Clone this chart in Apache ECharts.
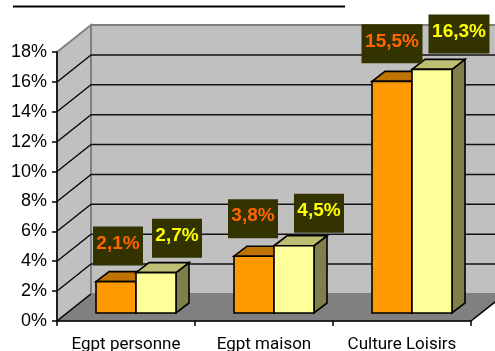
<!DOCTYPE html>
<html><head><meta charset="utf-8">
<style>html,body{margin:0;padding:0;background:#fff}#c{width:495px;height:351px}</style>
<script src="https://cdn.jsdelivr.net/npm/echarts@6/dist/echarts.min.js"></script>
</head><body><div id="c"></div>
<script>
const categories = ['Egpt personne', 'Egpt maison', 'Culture Loisirs'];
const orangeValues = [2.1, 3.8, 15.5];
const yellowValues = [2.7, 4.5, 16.3];
const yTicks = [0, 2, 4, 6, 8, 10, 12, 14, 16, 18];

// Label box placement relative to the bar's front-top centre (style only)
const orangeLabelShift = [[2, -16], [-1, -18], [0, -18]];
const yellowLabelShift = [[21, -15], [25, -13], [27, -16]];

const WALL_DX = 34, WALL_DY = -27;      // chart depth
const BAR_DX = 10, BAR_DY = -8;         // bar plane offset from the front plane
const BAR_DEPTH_X = 13, BAR_DEPTH_Y = -10;
const BAR_FRAC = 40 / 138;

const chart = echarts.init(document.getElementById('c'), null, {renderer: 'canvas'});
const FONT = '"Liberation Sans", Arial, sans-serif';

function wallsItem(p, api) {
  const o = api.coord([0, 0]), catW = api.size([1, 0])[0];
  const x0 = o[0] - catW / 2, x1 = x0 + catW * categories.length;
  const y0 = o[1], yT = api.coord([0, yTicks[yTicks.length - 1]])[1];
  const d = [WALL_DX, WALL_DY];
  return {type: 'group', children: [
    {type: 'polygon', shape: {points: [[x0 + d[0], yT + d[1]], [x1 + d[0], yT + d[1]], [x1 + d[0], y0 + d[1]], [x0 + d[0], y0 + d[1]]]},
      style: {fill: '#C0C0C0', stroke: '#808080', lineWidth: 2}},
    {type: 'polygon', shape: {points: [[x0, yT], [x0 + d[0], yT + d[1]], [x0 + d[0], y0 + d[1]], [x0, y0]]},
      style: {fill: '#C0C0C0', stroke: '#808080', lineWidth: 2}},
    {type: 'polygon', shape: {points: [[x0, y0], [x1, y0], [x1 + d[0], y0 + d[1]], [x0 + d[0], y0 + d[1]]]},
      style: {fill: '#808080', stroke: '#808080', lineWidth: 1}},
    {type: 'line', shape: {x1: x1, y1: y0, x2: x1 + d[0], y2: y0 + d[1]}, style: {stroke: '#000', lineWidth: 1.5}}
  ]};
}

function gridItem(p, api) {
  const v = api.value(1);
  const o = api.coord([0, v]), catW = api.size([1, 0])[0];
  const x0 = o[0] - catW / 2, x1 = x0 + catW * categories.length, y = o[1];
  const kids = [];
  if (v < yTicks[yTicks.length - 1]) {
    kids.push({type: 'line', shape: {x1: x0, y1: y, x2: x0 + WALL_DX, y2: y + WALL_DY}, style: {stroke: '#000', lineWidth: 1.3}});
    if (v > 0) kids.push({type: 'line', shape: {x1: x0 + WALL_DX, y1: y + WALL_DY, x2: x1 + WALL_DX, y2: y + WALL_DY}, style: {stroke: '#111', lineWidth: 1.5}});
  }
  return {type: 'group', children: kids};
}

function barRenderer(side, front, top, flank) {
  return function (p, api) {
    const i = api.value(0), v = api.value(1);
    const catW = api.size([1, 0])[0], w = catW * BAR_FRAC;
    const c = api.coord([i, v]), b = api.coord([i, 0]);
    const xL = c[0] + BAR_DX + (side === 0 ? -w : 0), xR = xL + w;
    const yT = c[1] + BAR_DY, yB = b[1] + BAR_DY;
    const st = {stroke: '#000', lineWidth: 1.6, lineJoin: 'miter'};
    return {type: 'group', children: [
      {type: 'polygon', shape: {points: [[xR, yT], [xR + BAR_DEPTH_X, yT + BAR_DEPTH_Y], [xR + BAR_DEPTH_X, yB + BAR_DEPTH_Y], [xR, yB]]}, style: {fill: flank, ...st}},
      {type: 'polygon', shape: {points: [[xL, yT], [xL + BAR_DEPTH_X, yT + BAR_DEPTH_Y], [xR + BAR_DEPTH_X, yT + BAR_DEPTH_Y], [xR, yT]]}, style: {fill: top, ...st}},
      {type: 'rect', shape: {x: xL, y: yT, width: w, height: yB - yT}, style: {fill: front, ...st}}
    ]};
  };
}

function labelRenderer(side, color, shifts) {
  return function (p, api) {
    const i = api.value(0), v = api.value(1);
    const catW = api.size([1, 0])[0], w = catW * BAR_FRAC;
    const c = api.coord([i, v]);
    const xL = c[0] + BAR_DX + (side === 0 ? -w : 0);
    const cx = xL + w / 2 + shifts[i][0], by = c[1] + BAR_DY + shifts[i][1];
    const txt = v.toFixed(1).replace('.', ',') + '%';
    const bw = v >= 10 ? 61 : 50, bh = 39;
    return {type: 'group', children: [
      {type: 'rect', shape: {x: cx - bw / 2, y: by - bh, width: bw, height: bh}, style: {fill: '#333300'}},
      {type: 'text', x: cx, y: by - bh + 17,
        style: {text: txt, fill: color, font: 'bold 19px ' + FONT, align: 'center', verticalAlign: 'middle'}}
    ]};
  };
}

const pairs = a => a.map((v, i) => [i, v]);

chart.setOption({
  animation: false,
  backgroundColor: '#fff',
  grid: {left: 57, top: 52, width: 414, height: 269, containLabel: false, outerBoundsMode: 'none'},
  graphic: [{type: 'line', silent: true, shape: {x1: 13, y1: 6.5, x2: 345, y2: 6.5}, style: {stroke: '#000', lineWidth: 2}}],
  xAxis: {
    type: 'category', data: categories, z: 3,
    axisLine: {lineStyle: {color: '#000', width: 1.5}},
    axisTick: {show: true, alignWithLabel: false, length: 5, lineStyle: {color: '#000', width: 1.5}},
    axisLabel: {color: '#000', fontFamily: 'Roboto, "Liberation Sans", sans-serif', fontSize: 17, margin: 15, interval: 0},
    splitLine: {show: false}
  },
  yAxis: {
    type: 'value', min: 0, max: 18, interval: 2, z: 3,
    axisLine: {show: true, lineStyle: {color: '#000', width: 1.5}},
    axisTick: {show: true, length: 5, lineStyle: {color: '#000', width: 1.5}},
    axisLabel: {color: '#000', fontFamily: FONT, fontSize: 18, margin: 10, formatter: '{value}%'},
    splitLine: {show: false}
  },
  series: [
    {type: 'custom', z: 1, silent: true, data: [[0, 0]], renderItem: wallsItem, clip: false},
    {type: 'custom', z: 2, silent: true, data: pairs(yTicks).map(d => [0, d[1]]), renderItem: gridItem, clip: false},
    {type: 'custom', z: 4, name: 'A', data: pairs(orangeValues), renderItem: barRenderer(0, '#FF9900', '#BF7300', '#7F4C00'), clip: false},
    {type: 'custom', z: 5, name: 'B', data: pairs(yellowValues), renderItem: barRenderer(1, '#FFFF99', '#BFBF73', '#7F7F4C'), clip: false},
    {type: 'custom', z: 6, data: pairs(orangeValues), renderItem: labelRenderer(0, '#FF6600', orangeLabelShift), clip: false},
    {type: 'custom', z: 6, data: pairs(yellowValues), renderItem: labelRenderer(1, '#FFFF00', yellowLabelShift), clip: false}
  ]
});
</script></body></html>
